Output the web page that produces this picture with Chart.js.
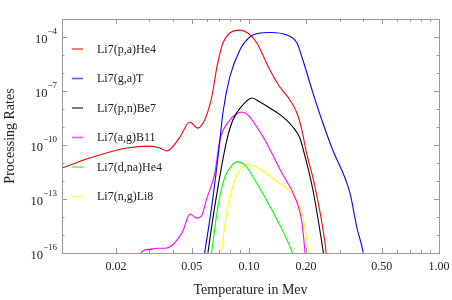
<!DOCTYPE html>
<html>
<head>
<meta charset="utf-8">
<script src="https://cdn.jsdelivr.net/npm/chart.js@4.4.1/dist/chart.umd.min.js"></script>
<style>
  html, body { margin: 0; padding: 0; background: #fff; }
  canvas { display: block; }
</style>
</head>
<body>
<canvas id="rates" width="452" height="300"></canvas>
<script>
// Rates: temperatures in MeV, rates as log10 exponents

// Li7(p,a)He4
const tempPaHe4 = [0.0104, 0.0151, 0.0228, 0.0301, 0.0340, 0.0370, 0.0434, 0.0489, 0.0539, 0.0586, 0.0638, 0.0679, 0.0730, 0.0794, 0.0897, 0.0988, 0.1102, 0.1274, 0.1456, 0.1644, 0.1790, 0.1901, 0.1995, 0.2225, 0.2512, 0.2585];
const logPaHe4  = [-11.28, -10.67, -10.17, -10.06, -10.17, -10.33, -9.56, -8.72, -9.06, -8.6, -7.33, -5.67, -4.33, -3.78, -3.62, -3.78, -4.33, -5.72, -6.78, -7.5, -8.22, -9.17, -10.28, -12.3, -15.4, -16.6];

// Li7(g,a)T
const tempGaT = [0.0573, 0.0638, 0.0695, 0.0730, 0.0794, 0.0897, 0.1012, 0.1143, 0.1290, 0.1585, 0.1790, 0.1923, 0.2172, 0.2450, 0.2734, 0.3402, 0.3702, 0.3981, 0.408];
const logGaT  = [-16.6, -13.4, -10.28, -8.22, -6.22, -4.72, -4.0, -3.78, -3.75, -3.89, -4.33, -5.28, -7.1, -8.78, -10.17, -12.67, -14.6, -15.9, -16.6];

// Li7(p,n)Be7
const tempPnBe7 = [0.0597, 0.0662, 0.0766, 0.0824, 0.0929, 0.1037, 0.1143, 0.1290, 0.1510, 0.1705, 0.1855, 0.1923, 0.2172, 0.2450, 0.2512];
const logPnBe7  = [-16.6, -13.4, -9.72, -8.61, -7.78, -7.39, -7.61, -7.94, -8.44, -9.0, -9.61, -10.17, -12.5, -15.8, -16.6];

// Li7(a,g)B11
const tempAgB11 = [0.0268, 0.0270, 0.0300, 0.0328, 0.0363, 0.0392, 0.0424, 0.0450, 0.0470, 0.0489, 0.0510, 0.0532, 0.0566, 0.0597, 0.0662, 0.0704, 0.0794, 0.0844, 0.0919, 0.0988, 0.1102, 0.1214, 0.1492, 0.1746, 0.1901, 0.1971, 0.1995];
const logAgB11  = [-16.6, -16.0, -15.8, -15.74, -15.74, -15.6, -15.2, -14.78, -14.2, -13.83, -13.95, -14.06, -13.9, -13.06, -11.56, -9.72, -8.61, -8.33, -8.17, -8.33, -9.0, -9.72, -11.56, -12.9, -14.3, -15.9, -16.6];

// Li7(d,na)He4
const tempDnaHe4 = [0.0630, 0.0687, 0.0748, 0.0805, 0.0865, 0.0952, 0.1076, 0.1321, 0.1683, 0.1770];
const logDnaHe4  = [-16.4, -13.44, -11.78, -11.2, -10.94, -11.1, -11.94, -13.6, -15.9, -16.6];

// Li7(n,g)Li8
const tempNgLi8 = [0.0712, 0.0721, 0.0775, 0.0844, 0.0909, 0.0988, 0.1170, 0.1422, 0.1683, 0.1901, 0.2045, 0.2070];
const logNgLi8  = [-16.6, -15.8, -13.44, -11.94, -11.3, -11.1, -11.4, -12.06, -12.67, -13.78, -15.8, -16.6];

const seriesNames  = ['Li7(p,a)He4', 'Li7(g,a)T', 'Li7(p,n)Be7', 'Li7(a,g)B11', 'Li7(d,na)He4', 'Li7(n,g)Li8'];
const seriesColors = ['rgb(255,0,0)', 'rgb(0,0,255)', 'rgb(0,0,0)', 'rgb(255,0,255)', 'rgb(0,255,0)', 'rgb(255,255,0)'];
const seriesTemps  = [tempPaHe4, tempGaT, tempPnBe7, tempAgB11, tempDnaHe4, tempNgLi8];
const seriesLogs   = [logPaHe4, logGaT, logPnBe7, logAgB11, logDnaHe4, logNgLi8];

// axis ticks
const xMajorTicks  = [0.02, 0.05, 0.1, 0.2, 0.5, 1.0];
const xTickLabels  = ['0.02', '0.05', '0.10', '0.20', '0.50', '1.00'];
const xMinorTicks  = [0.03, 0.04, 0.06, 0.07, 0.08, 0.09, 0.3, 0.4, 0.6, 0.7, 0.8, 0.9];
const yMajorExps   = [-16, -13, -10, -7, -4];
const yMinorExps   = [-15, -14, -12, -11, -9, -8, -6, -5];

const serif = "'Liberation Serif', 'Times New Roman', serif";

const datasets = seriesNames.map((name, i) => ({
    label: name,
    data: seriesTemps[i].map((t, j) => ({ x: t, y: Math.pow(10, seriesLogs[i][j]) })),
    borderColor: seriesColors[i],
    backgroundColor: seriesColors[i],
    borderWidth: 1.1,
    pointRadius: 0,
    fill: false,
    cubicInterpolationMode: 'monotone'
}));

// frame, inward ticks, labels, titles and the legend drawn over the plot
const framePlugin = {
    id: 'frame',
    afterDatasetsDraw(chart) {
        const ctx = chart.ctx;
        const area = chart.chartArea;
        const xs = chart.scales.x;
        const ys = chart.scales.y;

        ctx.save();
        ctx.strokeStyle = '#9a9a9a';
        ctx.lineWidth = 1;
        ctx.strokeRect(Math.round(area.left) + 0.5, Math.round(area.top) + 0.5,
                       Math.round(area.right - area.left), Math.round(area.bottom - area.top));

        function xTick(v, len) {
            const px = Math.round(xs.getPixelForValue(v)) + 0.5;
            ctx.beginPath();
            ctx.moveTo(px, area.bottom); ctx.lineTo(px, area.bottom - len);
            ctx.moveTo(px, area.top); ctx.lineTo(px, area.top + len);
            ctx.stroke();
        }
        function yTick(v, len) {
            const py = Math.round(ys.getPixelForValue(v)) + 0.5;
            ctx.beginPath();
            ctx.moveTo(area.left, py); ctx.lineTo(area.left + len, py);
            ctx.moveTo(area.right, py); ctx.lineTo(area.right - len, py);
            ctx.stroke();
        }
        xMajorTicks.forEach(v => xTick(v, 5));
        xMinorTicks.forEach(v => xTick(v, 3));
        yMajorExps.forEach(e => yTick(Math.pow(10, e), 5));
        yMinorExps.forEach(e => yTick(Math.pow(10, e), 2.5));

        ctx.fillStyle = '#222';
        ctx.textBaseline = 'alphabetic';

        // x tick labels
        ctx.font = '12px ' + serif;
        ctx.textAlign = 'center';
        xMajorTicks.forEach((v, i) => {
            ctx.fillText(xTickLabels[i], xs.getPixelForValue(v), 270);
        });

        // y tick labels, 10 with a raised exponent
        yMajorExps.forEach(e => {
            const py = ys.getPixelForValue(Math.pow(10, e));
            const expText = '\u2212' + Math.abs(e);
            ctx.font = '9px ' + serif;
            const expW = ctx.measureText(expText).width;
            ctx.textAlign = 'right';
            ctx.fillText(expText, 57, py - 3.5);
            ctx.font = '12.5px ' + serif;
            ctx.fillText('10', 57 - expW, py + 5.5);
        });

        // axis titles
        ctx.font = '14px ' + serif;
        ctx.textAlign = 'center';
        ctx.fillText('Temperature in Mev', (area.left + area.right) / 2, 294);
        ctx.save();
        ctx.translate(13.5, (area.top + area.bottom) / 2);
        ctx.rotate(-Math.PI / 2);
        ctx.fillText('Processing Rates', 0, 0);
        ctx.restore();

        // legend
        ctx.font = '12px ' + serif;
        ctx.textAlign = 'left';
        ctx.textBaseline = 'middle';
        chart.data.datasets.forEach((ds, i) => {
            const ly = 49 + i * 29.5;
            ctx.strokeStyle = ds.borderColor;
            ctx.globalAlpha = 0.65;
            ctx.lineWidth = 1.6;
            ctx.beginPath();
            ctx.moveTo(72, ly); ctx.lineTo(83, ly);
            ctx.stroke();
            ctx.globalAlpha = 1;
            ctx.fillStyle = '#222';
            ctx.fillText(ds.label, 97, ly + 0.5);
        });
        ctx.restore();
    }
};

new Chart(document.getElementById('rates').getContext('2d'), {
    type: 'line',
    data: { datasets: datasets },
    options: {
        responsive: false,
        animation: false,
        devicePixelRatio: 1,
        layout: { padding: { left: 62, top: 19, right: 13, bottom: 47 } },
        scales: {
            x: { type: 'logarithmic', min: 0.0104, max: 1.0, display: false },
            y: { type: 'logarithmic', min: 1e-16, max: 1e-3, display: false }
        },
        plugins: {
            legend: { display: false },
            tooltip: { enabled: false }
        }
    },
    plugins: [framePlugin]
});
</script>
</body>
</html>
